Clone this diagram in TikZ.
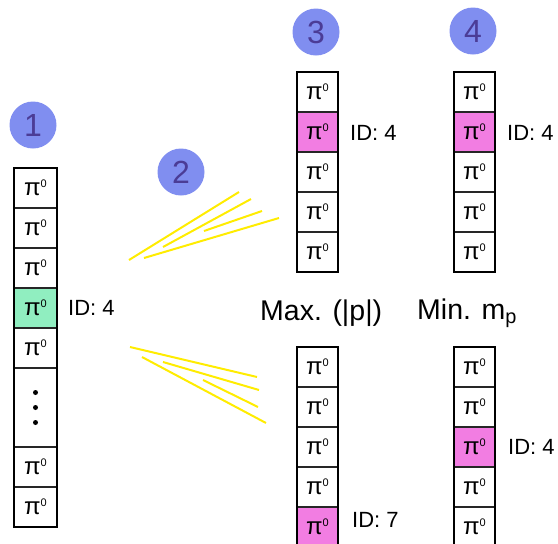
\documentclass[tikz,border=0pt]{standalone}
\usepackage{fontspec}
\setmainfont{Liberation Sans}
\definecolor{badgefill}{RGB}{128,142,240}
\definecolor{badgetext}{RGB}{75,60,150}
\definecolor{greencell}{RGB}{144,238,192}
\definecolor{pinkcell}{RGB}{242,125,226}
\definecolor{rayyellow}{RGB}{255,236,0}
\newcommand{\pz}{{\fontsize{24}{24}\selectfont π}\raisebox{8pt}{\fontsize{11}{11}\selectfont 0}}
\tikzset{
  cell/.style={draw=black!85, line width=1.2pt, minimum width=41pt, minimum height=40pt,
    inner sep=0pt, outer sep=0pt, anchor=north},
  hlg/.style={fill=greencell},
  hlp/.style={fill=pinkcell},
  frame/.style={draw=black, line width=2.4pt},
  badge/.style={circle, fill=badgefill, minimum size=47pt, inner sep=0pt,
    text=badgetext, font=\fontsize{32}{32}\selectfont},
  idlab/.style={anchor=west, inner sep=0pt, font=\fontsize{22}{22}\selectfont},
  head/.style={anchor=west, inner sep=0pt, font=\fontsize{28.5}{28.5}\selectfont},
  ray/.style={draw=rayyellow, line width=2pt}
}
\begin{document}
\begin{tikzpicture}[x=1pt,y=-1pt]
\useasboundingbox (0,0) rectangle (558,544);
% badges
\node[badge] (b1) at (33,125) {1};
\node[badge] (b2) at (181,172) {2};
\node[badge] (b3) at (316,32) {3};
\node[badge] (b4) at (473,31) {4};
% column 1
\node[cell,minimum width=43pt] (a1) at (35.5,168) {\pz};
\node[cell,minimum width=43pt] (a2) at (a1.south) {\pz};
\node[cell,minimum width=43pt] (a3) at (a2.south) {\pz};
\node[cell,minimum width=43pt,hlg] (a4) at (a3.south) {\pz};
\node[cell,minimum width=43pt] (a5) at (a4.south) {\pz};
\node[cell,minimum width=43pt,minimum height=79pt] (a6) at (a5.south) {};
\node[cell,minimum width=43pt] (a7) at (a6.south) {\pz};
\node[cell,minimum width=43pt] (a8) at (a7.south) {\pz};
\draw[frame] (a1.north west) rectangle (a8.south east);
\foreach \dy in {-15,0,15}{\fill ([yshift=-\dy pt]a6.center) circle (2.5pt);}
\node[idlab] (ida) at (68,308) {ID: 4};
% column 3 top
\node[cell] (c1) at (317.5,72) {\pz};
\node[cell,hlp] (c2) at (c1.south) {\pz};
\node[cell] (c3) at (c2.south) {\pz};
\node[cell] (c4) at (c3.south) {\pz};
\node[cell] (c5) at (c4.south) {\pz};
\draw[frame] (c1.north west) rectangle (c5.south east);
\node[idlab] (idc) at (350,133) {ID: 4};
% column 4 top
\node[cell] (d1) at (474.5,72) {\pz};
\node[cell,hlp] (d2) at (d1.south) {\pz};
\node[cell] (d3) at (d2.south) {\pz};
\node[cell] (d4) at (d3.south) {\pz};
\node[cell] (d5) at (d4.south) {\pz};
\draw[frame] (d1.north west) rectangle (d5.south east);
\node[idlab] (idd) at (507,133) {ID: 4};
% headings
\node[head] (hmax) at (260,313) {Max. (|p|)};
\node[head] (hmin) at (417,313) {Min. m\textsubscript{p}};
% column 3 bottom
\node[cell] (e1) at (317.5,347) {\pz};
\node[cell] (e2) at (e1.south) {\pz};
\node[cell] (e3) at (e2.south) {\pz};
\node[cell] (e4) at (e3.south) {\pz};
\node[cell,hlp] (e5) at (e4.south) {\pz};
\draw[frame] (e1.north west) rectangle (e5.south east);
\node[idlab] (ide) at (352,520) {ID: 7};
% column 4 bottom
\node[cell] (f1) at (474.5,347) {\pz};
\node[cell] (f2) at (f1.south) {\pz};
\node[cell,hlp] (f3) at (f2.south) {\pz};
\node[cell] (f4) at (f3.south) {\pz};
\node[cell] (f5) at (f4.south) {\pz};
\draw[frame] (f1.north west) rectangle (f5.south east);
\node[idlab] (idf) at (508,447) {ID: 4};
% yellow rays upper
\draw[ray] (129,260) -- (239,192);
\draw[ray] (163,247) -- (251,199);
\draw[ray] (204,231) -- (262,211);
\draw[ray] (144,258) -- (279,218);
% yellow rays lower
\draw[ray] (130,347) -- (257,377);
\draw[ray] (142,357) -- (266,423);
\draw[ray] (163,362) -- (259,390);
\draw[ray] (203,380) -- (258,407);
\end{tikzpicture}
\end{document}
